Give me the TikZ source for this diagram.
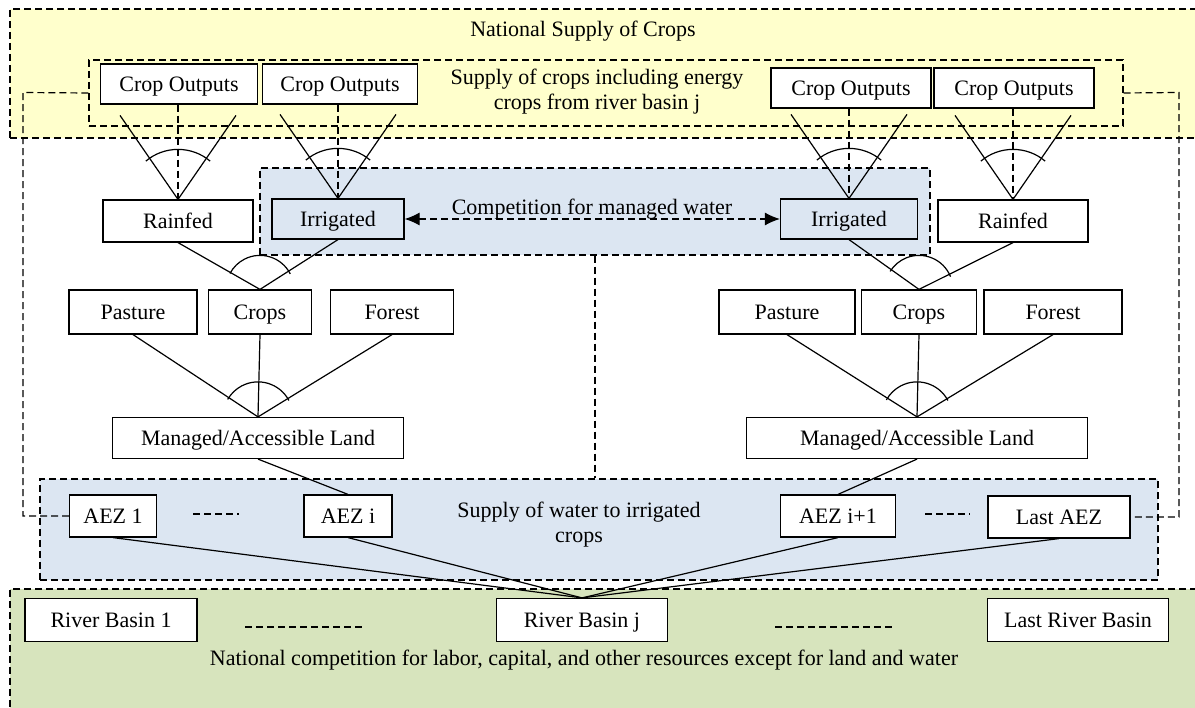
\documentclass[tikz,border=0pt]{standalone}
\usepackage{fontspec}
\setmainfont{Liberation Serif}
\usetikzlibrary{arrows.meta,calc}
\definecolor{yellowbg}{RGB}{255,255,204}
\definecolor{bluebg}{RGB}{220,230,242}
\definecolor{greenbg}{RGB}{215,228,189}
\tikzset{
  box/.style={draw, fill=white, line width=1.2pt, minimum height=40pt, inner sep=2pt, text height=15pt, text depth=0pt, font=\fontsize{22}{25}\selectfont},
  region/.style={draw, line width=1.2pt, dash pattern=on 7pt off 4pt, inner sep=0pt},
  zonetext/.style={font=\fontsize{22}{25}\selectfont, align=center, inner sep=0pt},
  link/.style={line width=1.2pt},
  dlink/.style={line width=1.2pt, dash pattern=on 7pt off 4pt},
}
\newcommand{\joinarc}[4]{\draw[link] ([shift={(#2:#4)}]#1) arc[start angle=#2, end angle=#3, radius=#4];}

\begin{document}
\begin{tikzpicture}[x=1pt, y=-1pt]
  \useasboundingbox (0,0) rectangle (1195,708);
  \clip (0,0) rectangle (1195,708);

  % zones
  \node[region, fill=yellowbg, minimum width=1200pt, minimum height=129pt] (national) at (610,73.5) {};
  \node[region, minimum width=1034pt, minimum height=66pt] (cropsup) at (606,93) {};
  \node[region, fill=bluebg, minimum width=670pt, minimum height=87pt] (water) at (595,211.5) {};
  \node[region, fill=bluebg, minimum width=1118pt, minimum height=101pt] (irrzone) at (599,529.5) {};
  \node[region, fill=greenbg, minimum width=1200pt, minimum height=140pt] (labor) at (610,659) {};

  \node[zonetext] (nattitle) at (583,31) {National Supply of Crops};
  \node[zonetext] (suptitle) at (597,92) {Supply of crops including energy\\crops from river basin j};
  \node[zonetext] (comptitle) at (592,209) {Competition for managed water};
  \node[zonetext] (irrtitle) at (579,525) {Supply of water to irrigated\\crops};
  \node[zonetext] (labtitle) at (584,660) {National competition for labor, capital, and other resources except for land and water};

  % boxes
  \node[box, minimum width=157pt] (crop1) at (179,84) {Crop Outputs};
  \node[box, minimum width=155pt] (crop2) at (340,84) {Crop Outputs};
  \node[box, minimum width=160pt] (crop3) at (851,88) {Crop Outputs};
  \node[box, minimum width=160pt] (crop4) at (1014,88) {Crop Outputs};

  \node[box, minimum width=150pt, minimum height=42pt] (rain1) at (178,221) {Rainfed};
  \node[box, fill=bluebg, minimum width=132pt] (irr1) at (338,219) {Irrigated};
  \node[box, fill=bluebg, minimum width=137pt] (irr2) at (849,219) {Irrigated};
  \node[box, minimum width=150pt, minimum height=42pt] (rain2) at (1013,221) {Rainfed};

  \node[box, minimum width=128pt, minimum height=44pt] (pas1) at (133,312) {Pasture};
  \node[box, minimum width=103pt, minimum height=44pt] (crp1) at (260,312) {Crops};
  \node[box, minimum width=123pt, minimum height=44pt] (for1) at (392,312) {Forest};
  \node[box, minimum width=136pt, minimum height=44pt] (pas2) at (787,312) {Pasture};
  \node[box, minimum width=115pt, minimum height=44pt] (crp2) at (919,312) {Crops};
  \node[box, minimum width=138pt, minimum height=44pt] (for2) at (1053,312) {Forest};

  \node[box, minimum width=291pt, minimum height=41pt] (man1) at (258,438) {Managed/Accessible Land};
  \node[box, minimum width=341pt, minimum height=41pt] (man2) at (917,438) {Managed/Accessible Land};

  \node[box, minimum width=87pt, minimum height=42pt] (aez1) at (113,516) {AEZ 1};
  \node[box, minimum width=88pt, minimum height=42pt] (aezi) at (348,516) {AEZ i};
  \node[box, minimum width=115pt, minimum height=42pt] (aezj) at (838,516) {AEZ i+1};
  \node[box, minimum width=142pt, minimum height=42pt] (aezl) at (1059,517) {Last AEZ};

  \node[box, minimum width=172pt, minimum height=43pt] (rb1) at (111,620) {River Basin 1};
  \node[box, minimum width=171pt, minimum height=43pt] (rbj) at (582,620) {River Basin j};
  \node[box, minimum width=181pt, minimum height=43pt] (rbl) at (1078,620) {Last River Basin};

  % crop output nests
  \foreach \apex/\top in {rain1/crop1, irr1/crop2, irr2/crop3, rain2/crop4} {
    \draw[link] (\apex.north) -- ++(-58,-84);
    \draw[link] (\apex.north) -- ++(58,-84);
    \draw[dlink] (\apex.north |- \top.south) -- (\apex.north);
    \joinarc{\apex.north}{50}{130}{50pt}
  }

  % crops nests
  \draw[link] (rain1.south) -- (crp1.north) -- (irr1.south);
  \joinarc{crp1.north}{27}{152}{34pt}
  \draw[link] (irr2.south) -- (crp2.north) -- (rain2.south);
  \joinarc{crp2.north}{22}{148}{34pt}

  % land nests
  \foreach \f in {pas1,crp1,for1} \draw[link] (\f.south) -- (man1.north);
  \joinarc{man1.north}{28}{150}{35pt}
  \foreach \f in {pas2,crp2,for2} \draw[link] (\f.south) -- (man2.north);
  \joinarc{man2.north}{28}{151}{35pt}

  \draw[link] (man1.south) -- (aezi.north);
  \draw[link] (man2.south) -- (aezj.north);
  \foreach \a in {aez1,aezi,aezj,aezl} \draw[link] (\a.south) -- (rbj.north);

  % dashed links
  \coordinate (lbend) at (23,92.5);
  \coordinate (rbend) at (1179,92.5);
  \draw[dlink] (cropsup.west) -- (lbend) |- (aez1.west);
  \draw[dlink] (cropsup.east) -- (rbend) |- (aezl.east);
  \draw[dlink] (water.south) -- (water.south |- irrzone.north);
  \draw[dlink, {Latex[length=15pt,width=13pt]}-{Latex[length=15pt,width=13pt]}] (irr1.east) -- (irr2.west);

  \draw[dlink] (193,514) -- (239,514);
  \draw[dlink] (925,514) -- (970,514);
  \draw[dlink] (245,627) -- (364,627);
  \draw[dlink] (775,627) -- (895,627);
\end{tikzpicture}
\end{document}
